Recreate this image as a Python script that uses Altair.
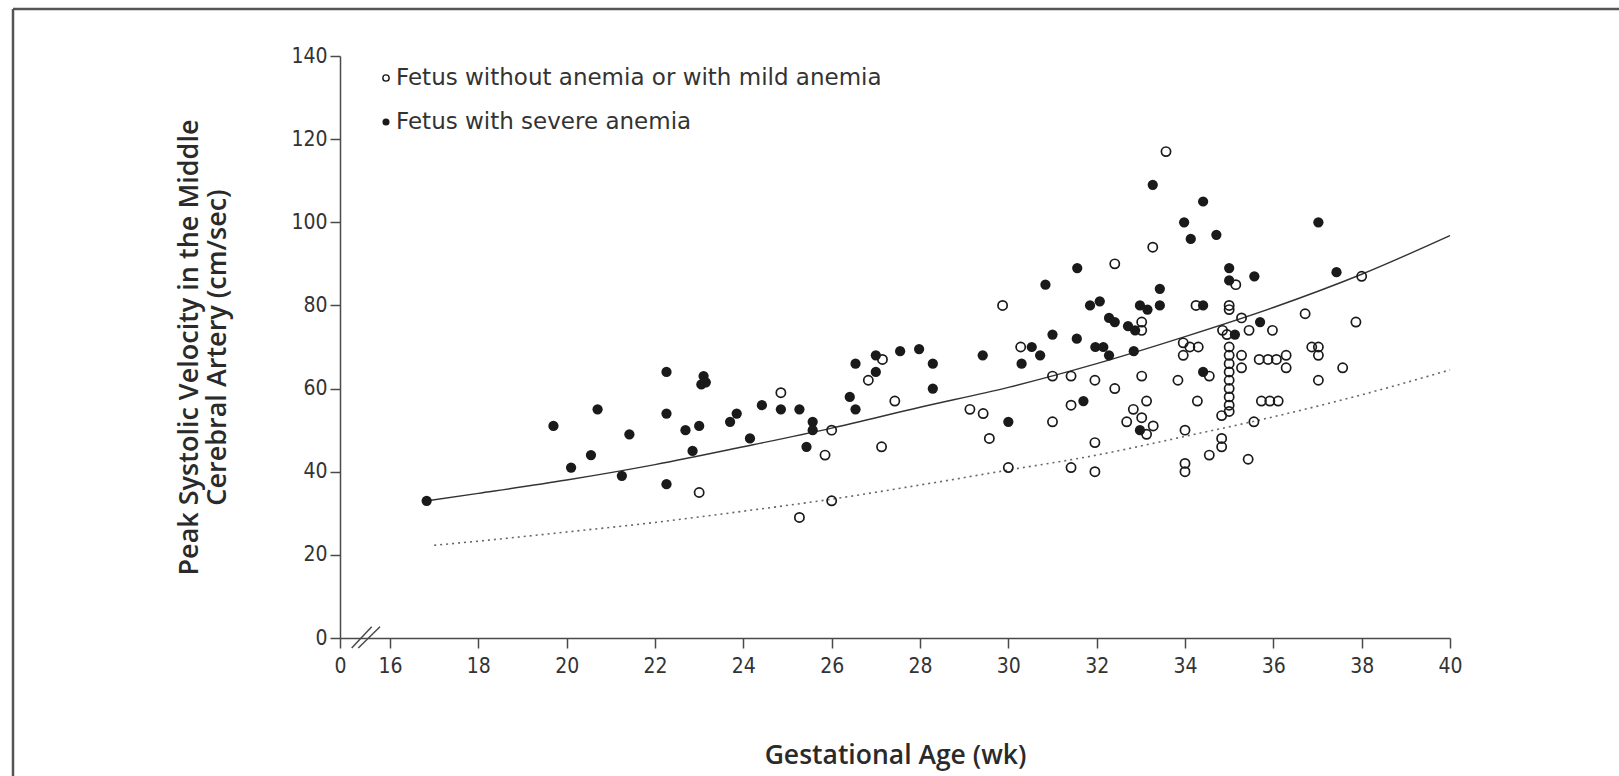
import altair as alt
import pandas as pd

# ---- data ----
open_x = [23.0, 24.85, 25.27, 25.85, 26.0, 26.0, 26.83, 27.15, 27.43, 27.13,
          29.87, 29.13, 29.43, 29.57, 30.0, 30.28, 31.0, 31.42, 31.42, 31.0,
          31.42, 31.96, 31.96, 31.96, 32.41, 32.41, 33.27, 33.57, 33.02, 33.02,
          33.02, 33.13, 32.83, 33.02, 32.68, 33.28, 33.13, 33.96, 34.11, 34.3,
          33.96, 33.84, 34.25, 34.55, 34.28, 34.0, 34.0, 34.0, 34.85, 34.95,
          35.0, 35.0, 35.15, 35.28, 35.45, 35.98, 35.0, 35.0, 35.0, 35.0,
          35.0, 35.0, 35.0, 35.0, 35.0, 34.83, 35.28, 35.28, 35.68, 35.88,
          36.07, 36.29, 36.29, 35.73, 35.92, 36.11, 35.56, 34.83, 34.83, 34.55,
          35.43, 36.72, 36.87, 37.02, 37.02, 37.57, 37.02, 37.87, 38.0]
open_y = [35, 59, 29, 44, 50, 33, 62, 67, 57, 46,
          80, 55, 54, 48, 41, 70, 63, 63, 56, 52,
          41, 62, 47, 40, 60, 90, 94, 117, 76, 74,
          63, 57, 55, 53, 52, 51, 49, 71, 70, 70,
          68, 62, 80, 63, 57, 50, 42, 40, 74, 73,
          80, 79, 85, 77, 74, 74, 70, 68, 66, 64,
          62, 60, 58, 56, 54.5, 53.5, 68, 65, 67, 67,
          67, 68, 65, 57, 57, 57, 52, 48, 46, 44,
          43, 78, 70, 70, 68, 65, 62, 76, 87]

filled_x = [16.83, 19.7, 20.1, 20.55, 20.7, 21.25, 21.42, 22.26, 22.26, 22.26,
            22.69, 22.85, 23.0, 23.05, 23.1, 23.15, 23.7, 23.85, 24.15, 24.42,
            24.85, 25.27, 25.57, 25.57, 25.43, 26.41, 26.54, 26.54, 27.0, 27.0,
            27.55, 27.98, 28.29, 28.29, 29.42, 30.0, 30.3, 30.53, 30.72, 30.84,
            31.0, 31.55, 31.56, 31.7, 31.85, 32.07, 31.97, 32.15, 32.28, 32.28,
            32.41, 32.71, 32.87, 32.84, 32.98, 33.15, 33.43, 33.43, 33.27, 33.98,
            34.13, 34.41, 34.71, 34.41, 34.41, 32.98, 35.0, 35.0, 35.57, 35.13,
            35.7, 37.02, 37.43]
filled_y = [33, 51, 41, 44, 55, 39, 49, 54, 37, 64,
            50, 45, 51, 61, 63, 61.5, 52, 54, 48, 56,
            55, 55, 52, 50, 46, 58, 55, 66, 68, 64,
            69, 69.5, 66, 60, 68, 52, 66, 70, 68, 85,
            73, 72, 89, 57, 80, 81, 70, 70, 68, 77,
            76, 75, 74, 69, 80, 79, 80, 84, 109, 100,
            96, 105, 97, 80, 64, 50, 89, 86, 87, 73,
            76, 100, 88]

solid_x = [16.83, 18, 20, 22, 24, 26, 28, 30, 32, 34, 36, 38, 40]
solid_y = [33, 34.8, 38, 41.7, 46, 50.5, 55.5, 60.3, 66, 72.5, 79.5, 87.5, 96.8]
dotted_x = [17.0, 18, 20, 22, 24, 26, 28, 30, 32, 34, 36, 38, 40]
dotted_y = [22.3, 23.3, 25.5, 27.8, 30.5, 33.4, 36.8, 40.4, 44, 48.5, 53.2, 58.5, 64.5]

x_ticks = [14.868, 16, 18, 20, 22, 24, 26, 28, 30, 32, 34, 36, 38, 40]
y_ticks = [0, 20, 40, 60, 80, 100, 120, 140]
legend_labels = ["Fetus without anemia or with mild anemia", "Fetus with severe anemia"]

TICK_FONT = "Liberation Sans Narrow, DejaVu Sans Condensed, DejaVu Sans, sans-serif"
TEXT_FONT = "Open Sans"
LEG_FONT = "DejaVu Sans"
INK = "#1a1a1a"
AXIS = "#4a4a4a"

open_df = pd.DataFrame({"x": open_x, "y": open_y})
filled_df = pd.DataFrame({"x": filled_x, "y": filled_y})
solid_df = pd.DataFrame({"x": solid_x, "y": solid_y})
dotted_df = pd.DataFrame({"x": dotted_x, "y": dotted_y})

xscale = alt.Scale(domain=[14.868, 40], nice=False, zero=False)
yscale = alt.Scale(domain=[0, 140], nice=False)

xaxis = alt.Axis(values=x_ticks, labelExpr="datum.value < 15 ? '0' : format(datum.value, 'd')",
                 grid=False, domainColor=AXIS, domainWidth=1.5, tickColor=AXIS, tickWidth=1.5,
                 tickSize=10, labelFont=TICK_FONT, labelFontSize=21, labelColor="#333",
                 labelPadding=7, labelFlush=False,
                 title="Gestational Age (wk)", titleFont=TEXT_FONT, titleFontSize=26.5,
                 titleFontWeight=600, titleColor="#2a2a2a", titleY=117, titleBaseline="middle")
yaxis = alt.Axis(values=y_ticks, grid=False, domainColor=AXIS, domainWidth=1.5, tickColor=AXIS,
                 tickWidth=1.5, tickSize=10, labelFont=TICK_FONT, labelFontSize=21,
                 labelColor="#333", labelPadding=3,
                 title=["Peak Systolic Velocity in the Middle", "Cerebral Artery (cm/sec)"],
                 titleFont=TEXT_FONT, titleFontSize=27, titleFontWeight=600, titleColor="#2a2a2a",
                 titleLineHeight=28, titleX=-137, titleY=291, titleBaseline="bottom",
                 titleAngle=270)

solid = alt.Chart(solid_df).mark_line(color="#333", strokeWidth=1.4, interpolate="monotone").encode(
    x=alt.X("x:Q", scale=xscale, axis=xaxis), y=alt.Y("y:Q", scale=yscale, axis=yaxis))
dotted = alt.Chart(dotted_df).mark_line(color="#666", strokeWidth=1.6, strokeDash=[2, 4],
                                        interpolate="monotone").encode(
    x=alt.X("x:Q", scale=xscale), y=alt.Y("y:Q", scale=yscale))
opens = alt.Chart(open_df).mark_point(shape="circle", filled=False, color=INK, size=85,
                                      strokeWidth=1.7, opacity=1).encode(
    x=alt.X("x:Q", scale=xscale), y=alt.Y("y:Q", scale=yscale))
fills = alt.Chart(filled_df).mark_circle(color=INK, size=105, opacity=1).encode(
    x=alt.X("x:Q", scale=xscale), y=alt.Y("y:Q", scale=yscale))

one = pd.DataFrame({"a": [0]})
leg_open = alt.Chart(one).mark_point(shape="circle", filled=False, color=INK, size=40,
                                     strokeWidth=1.4, opacity=1).encode(x=alt.value(46), y=alt.value(22))
leg_fill = alt.Chart(one).mark_circle(color=INK, size=50, opacity=1).encode(x=alt.value(46), y=alt.value(66))
leg_t1 = alt.Chart(one).mark_text(text=legend_labels[0], font=LEG_FONT, fontSize=23, color="#333",
                                  align="left", baseline="middle").encode(x=alt.value(56), y=alt.value(22))
leg_t2 = alt.Chart(one).mark_text(text=legend_labels[1], font=LEG_FONT, fontSize=23, color="#333",
                                  align="left", baseline="middle").encode(x=alt.value(56), y=alt.value(66))

brk1 = alt.Chart(one).mark_rule(color=AXIS, strokeWidth=1.5).encode(
    x=alt.value(11.7), x2=alt.value(31.7), y=alt.value(592), y2=alt.value(570.7))
brk2 = alt.Chart(one).mark_rule(color=AXIS, strokeWidth=1.5).encode(
    x=alt.value(18.3), x2=alt.value(40), y=alt.value(592), y2=alt.value(570.7))

frame_top = alt.Chart(one).mark_rule(color="#555", strokeWidth=2.5).encode(
    x=alt.value(-327), x2=alt.value(1290), y=alt.value(-47), y2=alt.value(-47))
frame_left = alt.Chart(one).mark_rule(color="#555", strokeWidth=2.5).encode(
    x=alt.value(-327), x2=alt.value(-327), y=alt.value(-47), y2=alt.value(730))

chart = alt.layer(frame_top, frame_left, dotted, solid, opens, fills, brk1, brk2,
                  leg_open, leg_fill, leg_t1, leg_t2).properties(
    width=1110, height=582,
    autosize=alt.AutoSizeParams(type="none"),
    padding={"left": 340, "top": 56, "right": 169, "bottom": 138},
    background="white",
).configure_view(stroke=None)

chart.save("out.html", embed_options={"renderer": "svg", "actions": False})
